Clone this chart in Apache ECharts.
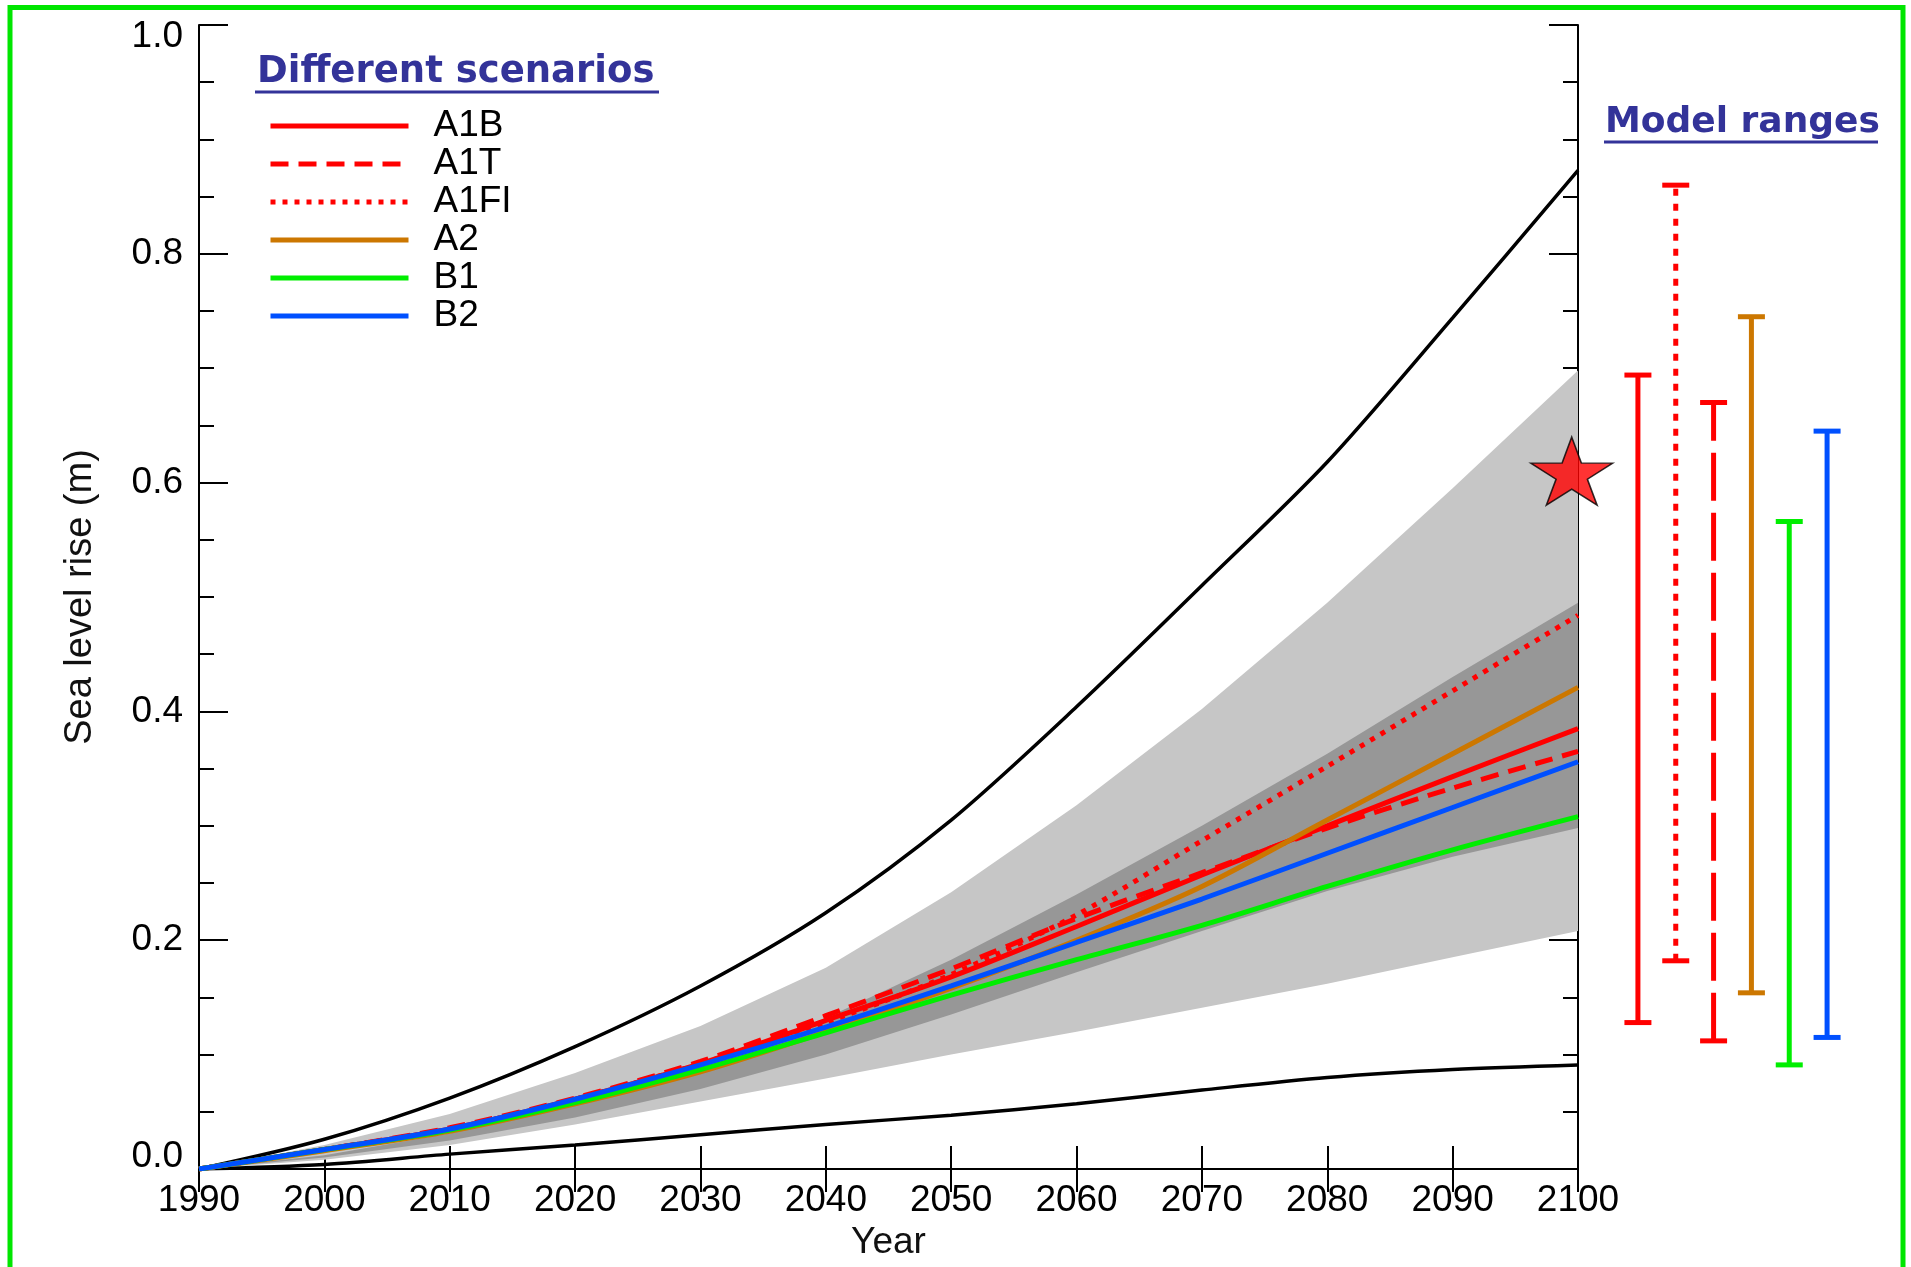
<!DOCTYPE html>
<html><head><meta charset="utf-8">
<script src="https://cdn.jsdelivr.net/npm/echarts@6/dist/echarts.min.js"></script>
<style>html,body{margin:0;padding:0;background:#fff}#c{width:1911px;height:1267px}</style>
</head><body><div id="c"></div>
<script>
// ---- data ----
const years = [1990, 2000, 2010, 2020, 2030, 2040, 2050, 2060, 2070, 2080, 2090, 2100];
const upperEnvelope = [0, 0.026, 0.062, 0.107, 0.160, 0.224, 0.305, 0.404, 0.510, 0.618, 0.744, 0.873];
const lowerEnvelope = [0, 0.004, 0.013, 0.021, 0.030, 0.039, 0.047, 0.057, 0.069, 0.080, 0.087, 0.091];
const lightHigh = [0, 0.021, 0.048, 0.084, 0.125, 0.176, 0.242, 0.318, 0.402, 0.495, 0.595, 0.698];
const lightLow  = [0, 0.008, 0.021, 0.039, 0.059, 0.079, 0.100, 0.120, 0.141, 0.162, 0.185, 0.208];
const darkHigh  = [0, 0.012, 0.031, 0.058, 0.090, 0.132, 0.183, 0.240, 0.300, 0.363, 0.430, 0.495];
const darkLow   = [0, 0.010, 0.025, 0.045, 0.070, 0.100, 0.135, 0.172, 0.208, 0.243, 0.273, 0.298];
const A1B  = [0, 0.017, 0.035, 0.061, 0.092, 0.130, 0.168, 0.212, 0.257, 0.300, 0.343, 0.385];
const A1T  = [0, 0.017, 0.036, 0.062, 0.094, 0.134, 0.175, 0.219, 0.259, 0.298, 0.333, 0.365];
const A1FI = [0, 0.017, 0.035, 0.061, 0.092, 0.128, 0.170, 0.222, 0.287, 0.352, 0.418, 0.484];
const A2   = [0, 0.016, 0.033, 0.057, 0.085, 0.120, 0.158, 0.200, 0.247, 0.305, 0.363, 0.421];
const B1   = [0, 0.017, 0.034, 0.058, 0.087, 0.119, 0.152, 0.183, 0.213, 0.247, 0.279, 0.308];
const B2   = [0, 0.017, 0.035, 0.061, 0.091, 0.124, 0.160, 0.198, 0.236, 0.276, 0.316, 0.356];
const scenarioNames = ['A1B', 'A1T', 'A1FI', 'A2', 'B1', 'B2'];
const rangeNames = ['A1B', 'A1FI', 'A1T', 'A2', 'B1', 'B2'];
const rangeLow  = [0.128, 0.182, 0.112, 0.154, 0.091, 0.115];
const rangeHigh = [0.694, 0.860, 0.670, 0.745, 0.566, 0.645];
const starPoint = [2099.5, 0.61];
const xTicks = {min: 1990, max: 2100, step: 10};
const yTicks = {min: 0, max: 1, step: 0.2};

// ---- styles ----
const RED = '#ff0000', ORANGE = '#cc7700', GREEN = '#00ee00', BLUE = '#0050ff';
const scenarioStyle = {
  A1B: {color: RED, type: 'solid'},
  A1T: {color: RED, type: [18, 10]},
  A1FI: {color: RED, type: [5, 7]},
  A2: {color: ORANGE, type: 'solid'},
  B1: {color: GREEN, type: 'solid'},
  B2: {color: BLUE, type: 'solid'}
};
const rangeStyle = {
  A1B: {color: RED, dash: null},
  A1FI: {color: RED, dash: [7, 8]},
  A1T: {color: RED, dash: [48, 12]},
  A2: {color: ORANGE, dash: null},
  B1: {color: GREEN, dash: null},
  B2: {color: BLUE, dash: null}
};
const scenarioData = {A1B, A1T, A1FI, A2, B1, B2};
const pairs = arr => years.map((y, i) => [y, arr[i]]);
const FONT = 'Liberation Sans';
const FS = 37;

function band(low, high, color, z) {
  return {
    type: 'custom', xAxisIndex: 0, yAxisIndex: 0, z: z, silent: true,
    data: [[2045, 0.5]],
    renderItem: function (params, api) {
      const pts = [];
      for (let i = 0; i < years.length; i++) pts.push(api.coord([years[i], high[i]]));
      for (let i = years.length - 1; i >= 0; i--) pts.push(api.coord([years[i], low[i]]));
      return {type: 'polygon', shape: {points: pts}, style: {fill: color}};
    }
  };
}

const series = [
  band(lightLow, lightHigh, '#c6c6c6', 1),
  band(darkLow, darkHigh, '#979797', 1),
  {type: 'line', name: 'upper', data: pairs(upperEnvelope), symbol: 'none', smooth: 0.3, z: 3,
   lineStyle: {color: '#000', width: 3.5}, silent: true},
  {type: 'line', name: 'lower', data: pairs(lowerEnvelope), symbol: 'none', smooth: 0.3, z: 3,
   lineStyle: {color: '#000', width: 3.5}, silent: true}
];
scenarioNames.forEach(function (n) {
  series.push({
    type: 'line', name: n, data: pairs(scenarioData[n]), symbol: 'none', smooth: 0.3, z: 4,
    color: scenarioStyle[n].color,
    lineStyle: {color: scenarioStyle[n].color, width: 5, type: scenarioStyle[n].type},
    silent: true
  });
});
series.push({
  type: 'scatter', name: 'star', xAxisIndex: 0, yAxisIndex: 0, z: 6, silent: true,
  data: [starPoint],
  symbol: 'path://M0,-100 L22.45,-30.9 L95.1,-30.9 L36.3,11.8 L58.8,80.9 L0,38.2 L-58.8,80.9 L-36.3,11.8 L-95.1,-30.9 L-22.45,-30.9 Z',
  symbolSize: [82, 68],
  itemStyle: {color: RED, borderColor: '#000', borderWidth: 1.5}
});
series.push({
  type: 'custom', name: 'ranges', xAxisIndex: 2, yAxisIndex: 2, z: 4, silent: true,
  data: rangeNames.map((n, i) => [i, rangeLow[i], rangeHigh[i]]),
  renderItem: function (params, api) {
    const i = api.value(0);
    const st = rangeStyle[rangeNames[i]];
    const lo = api.coord([i, api.value(1)]);
    const hi = api.coord([i, api.value(2)]);
    const half = 13.5;
    return {type: 'group', children: [
      {type: 'line', shape: {x1: lo[0], y1: lo[1], x2: hi[0], y2: hi[1]},
       style: {stroke: st.color, lineWidth: 5, lineDash: st.dash}},
      {type: 'line', shape: {x1: hi[0] - half, y1: hi[1], x2: hi[0] + half, y2: hi[1]},
       style: {stroke: st.color, lineWidth: 5}},
      {type: 'line', shape: {x1: lo[0] - half, y1: lo[1], x2: lo[0] + half, y2: lo[1]},
       style: {stroke: st.color, lineWidth: 5}}
    ]};
  }
});

const axisLineStyle = {show: true, lineStyle: {color: '#000', width: 2}};
const option = {
  backgroundColor: '#fff',
  animation: false,
  grid: [
    {left: 199, right: 333, top: 25, bottom: 98},
    {left: 1619, right: 65, top: 25, bottom: 98}
  ],
  legend: {
    data: scenarioNames, orient: 'vertical', left: 268, top: 107, padding: 0,
    itemWidth: 138, itemHeight: 38, itemGap: 0, selectedMode: false,
    itemStyle: {opacity: 0},
    lineStyle: {width: 5},
    textStyle: {fontFamily: FONT, fontSize: FS, color: '#000', lineHeight: 38, padding: [0, 0, 0, 20]}
  },
  xAxis: [
    {type: 'value', gridIndex: 0, position: 'bottom', min: xTicks.min, max: xTicks.max, interval: xTicks.step,
     axisLine: axisLineStyle, splitLine: {show: false},
     axisTick: {inside: true, length: 23, lineStyle: {color: '#000', width: 2}},
     axisLabel: {fontFamily: FONT, fontSize: FS, color: '#000', margin: 13, formatter: v => String(v)},
     name: 'Year', nameLocation: 'middle', nameGap: 54,
     nameTextStyle: {fontFamily: FONT, fontSize: FS, color: '#111'}},
    {type: 'value', gridIndex: 0, position: 'top', min: xTicks.min, max: xTicks.max, interval: xTicks.step,
     axisLine: axisLineStyle, splitLine: {show: false},
     axisTick: {inside: true, length: 23, lineStyle: {color: '#000', width: 2}},
     axisLabel: {show: false}},
    {type: 'category', gridIndex: 1, data: rangeNames, show: false}
  ],
  yAxis: [
    {type: 'value', gridIndex: 0, position: 'left', min: yTicks.min, max: yTicks.max, interval: yTicks.step,
     axisLine: axisLineStyle, splitLine: {show: false},
     axisTick: {inside: true, length: 29, lineStyle: {color: '#000', width: 2}},
     minorTick: {show: true, splitNumber: 4, length: 15, lineStyle: {color: '#000', width: 2}},
     axisLabel: {fontFamily: FONT, fontSize: FS, color: '#000', margin: 16, lineHeight: 24,
                 formatter: v => v.toFixed(1),
                 verticalAlignMinLabel: 'bottom', verticalAlignMaxLabel: 'top'},
     name: 'Sea level rise (m)', nameLocation: 'middle', nameGap: 99, nameRotate: 90,
     nameTextStyle: {fontFamily: FONT, fontSize: 38, color: '#111'}},
    {type: 'value', gridIndex: 0, position: 'right', min: yTicks.min, max: yTicks.max, interval: yTicks.step,
     axisLine: axisLineStyle, splitLine: {show: false},
     axisTick: {inside: true, length: 29, lineStyle: {color: '#000', width: 2}},
     minorTick: {show: true, splitNumber: 4, length: 15, lineStyle: {color: '#000', width: 2}},
     axisLabel: {show: false}},
    {type: 'value', gridIndex: 1, min: 0, max: 1, show: false}
  ],
  graphic: [
    {type: 'rect', silent: true, z: 100, shape: {x: 10, y: 7.5, width: 1893, height: 1320},
     style: {fill: 'none', stroke: '#00e600', lineWidth: 5}},
    {type: 'text', silent: true, z: 100, x: 257, y: 72,
     style: {text: 'Different scenarios', font: 'bold 37px "DejaVu Sans"', fill: '#333399',
             align: 'left', verticalAlign: 'middle', textAlign: 'left', textVerticalAlign: 'middle'}},
    {type: 'line', silent: true, z: 100, shape: {x1: 255, y1: 92, x2: 659, y2: 92},
     style: {stroke: '#333399', lineWidth: 3}},
    {type: 'text', silent: true, z: 100, x: 1605, y: 123,
     style: {text: 'Model ranges', font: 'bold 36px "DejaVu Sans"', fill: '#333399',
             align: 'left', verticalAlign: 'middle', textAlign: 'left', textVerticalAlign: 'middle'}},
    {type: 'line', silent: true, z: 100, shape: {x1: 1604, y1: 142, x2: 1878, y2: 142},
     style: {stroke: '#333399', lineWidth: 3}}
  ],
  series: series
};
const chart = echarts.init(document.getElementById('c'), null, {renderer: 'canvas'});
chart.setOption(option);
</script>
</body></html>
